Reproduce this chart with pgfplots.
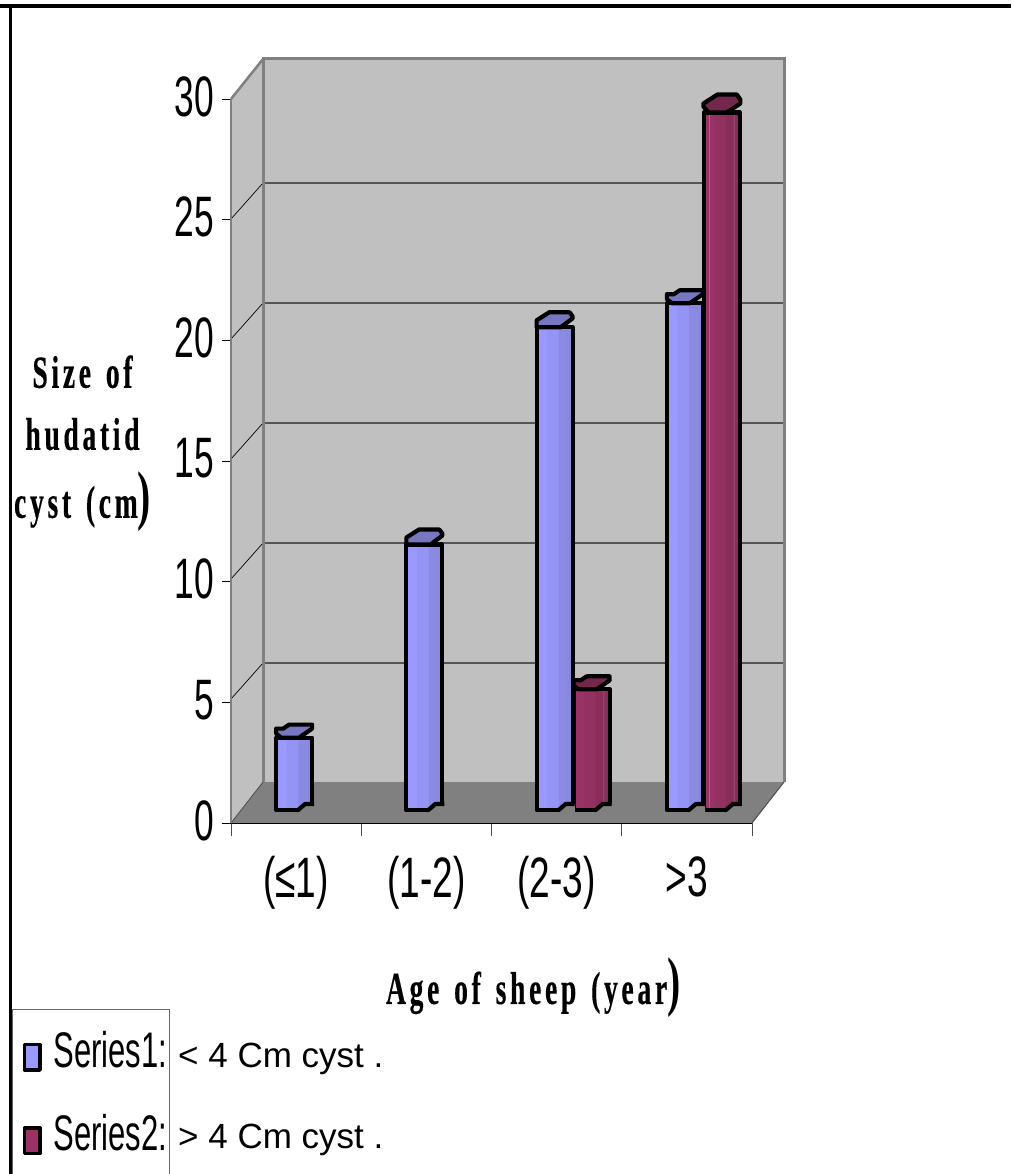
\documentclass[border=0pt]{standalone}
\usepackage{fontspec}
\usepackage{pgfplots}
\usepackage{pgfplotstable}
\pgfplotsset{compat=1.18}
\newfontfamily\ticksf[FakeStretch=0.62]{Liberation Sans}
\newfontfamily\catsf[FakeStretch=0.65]{Liberation Sans}
\newfontfamily\plainsf{Liberation Sans}
\newfontfamily\titlef[FakeStretch=0.6,LetterSpace=8,WordSpace=1.4,FakeBold=0.3]{Liberation Serif Bold}
\newfontfamily\parenf[FakeStretch=0.6]{Liberation Serif Bold}
\definecolor{wall}{HTML}{C0C0C0}
\definecolor{floorc}{HTML}{808080}
\definecolor{edge}{HTML}{808080}
\definecolor{gridc}{HTML}{555555}
\definecolor{blueA}{HTML}{9999FF}
\definecolor{blueB}{HTML}{9494F5}
\definecolor{blueC}{HTML}{8A8AE3}
\definecolor{blueD}{HTML}{8888DD}
\definecolor{bluetop}{HTML}{7777BF}
\definecolor{wineA}{HTML}{993366}
\definecolor{wineB}{HTML}{933160}
\definecolor{wineC}{HTML}{8A2E59}
\definecolor{wineD}{HTML}{82305A}
\definecolor{wineL}{HTML}{B0638A}
\definecolor{winetop}{HTML}{74264D}
% top face of a column, origin on the front edge of the top
\pgfdeclareplotmark{columncap}{%
  \pgfpathmoveto{\pgfqpoint{-18pt}{4pt}}%
  \pgfpathlineto{\pgfqpoint{-18pt}{9pt}}%
  \pgfpathlineto{\pgfqpoint{-11pt}{9pt}}%
  \pgfpathlineto{\pgfqpoint{-5pt}{13pt}}%
  \pgfpathlineto{\pgfqpoint{18pt}{13pt}}%
  \pgfpathlineto{\pgfqpoint{18pt}{9pt}}%
  \pgfpathlineto{\pgfqpoint{5pt}{0pt}}%
  \pgfpathlineto{\pgfqpoint{-13pt}{0pt}}%
  \pgfpathclose
  \pgfusepathqfillstroke}
% smooth variant with no step on its left side
\pgfdeclareplotmark{columncapround}{%
  \pgfpathmoveto{\pgfqpoint{-18pt}{0pt}}%
  \pgfpathlineto{\pgfqpoint{-18pt}{7pt}}%
  \pgfpathlineto{\pgfqpoint{-5.5pt}{15pt}}%
  \pgfpathlineto{\pgfqpoint{15pt}{15pt}}%
  \pgfpathlineto{\pgfqpoint{18pt}{11pt}}%
  \pgfpathlineto{\pgfqpoint{18pt}{9pt}}%
  \pgfpathlineto{\pgfqpoint{6pt}{0pt}}%
  \pgfpathclose
  \pgfusepathqfillstroke}
% the taller, rounder top of the highest column
\pgfdeclareplotmark{columncaptall}{%
  \pgfpathmoveto{\pgfqpoint{-18.5pt}{6pt}}%
  \pgfpathlineto{\pgfqpoint{-18.5pt}{9pt}}%
  \pgfpathlineto{\pgfqpoint{-4.5pt}{18pt}}%
  \pgfpathlineto{\pgfqpoint{15pt}{18pt}}%
  \pgfpathlineto{\pgfqpoint{18.5pt}{13pt}}%
  \pgfpathlineto{\pgfqpoint{18.5pt}{9pt}}%
  \pgfpathlineto{\pgfqpoint{4.5pt}{0pt}}%
  \pgfpathlineto{\pgfqpoint{-13pt}{0pt}}%
  \pgfpathclose
  \pgfusepathqfillstroke}
% curved foot of a column, origin on the base of the column
\pgfdeclareplotmark{columnfoot}{%
  \pgfpathmoveto{\pgfqpoint{4pt}{0pt}}%
  \pgfpathlineto{\pgfqpoint{11pt}{6pt}}%
  \pgfpathlineto{\pgfqpoint{20.2pt}{6pt}}%
  \pgfpathlineto{\pgfqpoint{20.2pt}{-2.5pt}}%
  \pgfpathlineto{\pgfqpoint{4pt}{-2.5pt}}%
  \pgfpathclose
  \pgfusepathqfill
  \pgfpathmoveto{\pgfqpoint{3pt}{0pt}}%
  \pgfpathlineto{\pgfqpoint{4pt}{0pt}}%
  \pgfpathlineto{\pgfqpoint{11pt}{6pt}}%
  \pgfpathlineto{\pgfqpoint{20pt}{6pt}}%
  \pgfusepathqstroke}
\pgfplotsset{
  stripe/.style n args={3}{ybar, forget plot, draw=none, fill=#1,
    bar width=#2pt, bar shift=#3pt, yshift=13pt},
  outline/.style={ybar, bar width=36pt, bar shift=#1pt, draw=black, fill=none,
    line width=4.2pt, line join=round, yshift=13pt},
  faces/.style={only marks, forget plot, yshift=13pt,
    mark options={draw=black, line width=4.2pt, line join=round, fill=#1}},
}
\pgfplotstableread{
x   value  base
0.5 3      0
1.5 11     0
2.5 20     0
3.5 21     0
}\seriesone
\pgfplotstableread{
x   value  base
2.5 5      0
3.5 28.9   0
}\seriestwo
\begin{document}
\begin{tikzpicture}[x=1pt,y=-1pt]
\path[use as bounding box] (0,0) rectangle (1011,1174);
% page frame
\fill[black] (0,4) rectangle (1011,8);
\fill[black] (9,4) rectangle (12,1174);
% chart box: side wall, back wall and floor
\fill[wall] (231,99) -- (263,59) -- (263,782) -- (231,823) -- cycle;
\fill[wall] (263,59) rectangle (784,782);
\fill[floorc] (231,823) -- (263,782) -- (784,782) -- (752,823) -- cycle;
\foreach \yy in {183,303,423,543,663} {
  \draw[gridc, line width=1.5pt] (263,\yy) -- (784,\yy);
}
\foreach \yy/\ff in {219/183,339/303,459/423,579/543,699/663} {
  \draw[black, line width=0.7pt] (231,\yy) -- (263,\ff);
}
\draw[edge, line width=3pt] (263,782) -- (263,59) -- (784,59) -- (784,782);
\draw[edge, line width=2.5pt] (231,99) -- (263,59);
\draw[black!70, line width=0.8pt] (231,823) -- (263,782);
\draw[black!70, line width=1pt] (752,823) -- (784,782);
\begin{axis}[
  at={(231pt,-823pt)}, anchor=south west,
  scale only axis, width=521pt, height=724pt,
  xmin=0, xmax=4, ymin=0, ymax=30,
  clip=false,
  axis x line=bottom, axis y line=left,
  axis line style={-, black, line width=0.8pt},
  y axis line style={edge, line width=2pt},
  xtick={0.5,1.5,2.5,3.5},
  xticklabels={(≤1),(1-2),(2-3),>3},
  minor xtick={0,1,2,3,4},
  ytick={0,5,10,15,20,25,30},
  tick align=outside,
  major tick length=9pt,
  minor tick length=13pt,
  x tick style={draw=none},
  minor x tick style={draw=black!70, line width=1pt},
  y tick style={black, line width=0.8pt},
  /pgf/number format/assume math mode=true,
  yticklabel style={xshift=-4.5pt, yshift=2.5pt, font=\ticksf\fontsize{57}{60}\selectfont},
  xticklabel style={yshift=-21pt, font=\catsf\fontsize{57}{60}\selectfont},
  xlabel={Age of sheep (year{\parenf\fontsize{66}{66}\selectfont)}},
  xlabel style={at={(axis description cs:0.58,-0.228)}, anchor=center,
    font=\titlef\fontsize{46}{50}\selectfont},
  ylabel={Size of\\hudatid\\[6pt]cyst (cm{\parenf\fontsize{66}{66}\selectfont)}},
  ylabel style={at={(axis description cs:-0.285,0.524)}, rotate=-90,
    anchor=center, align=center,
    font=\titlef\fontsize{46}{62}\selectfont},
  legend style={at={(axis description cs:-0.4,-0.2844)}, anchor=north west,
    draw=none, fill=none, inner sep=0pt, row sep=41pt,
    font=\ticksf\fontsize{50}{52}\selectfont},
  legend cell align=left,
]
% series 1: cysts under 4 cm
\addplot[stripe={blueA}{36}{-2}] table[x=x, y=value] {\seriesone};
\addplot[stripe={blueB}{11.6}{-3.5}] table[x=x, y=value] {\seriesone};
\addplot[stripe={blueC}{8.4}{6.5}] table[x=x, y=value] {\seriesone};
\addplot[stripe={blueD}{5}{13.1}] table[x=x, y=value] {\seriesone};
\addplot[outline=-2,
  legend image code/.code={\draw[black, line width=3.4pt, fill=blueA]
    (-2pt,-33pt) rectangle (13.5pt,-7.5pt); \path (23pt,-20pt);}]
  table[x=x, y=value] {\seriesone};
\addlegendentry{Series1:}
\addplot[faces=floorc, mark=columnfoot, xshift=-2pt] table[x=x, y=base] {\seriesone};
\addplot[faces=bluetop, mark=columncap, xshift=-2pt] coordinates {(0.5,3) (3.5,21)};
\addplot[faces=bluetop, mark=columncapround, xshift=-2pt] coordinates {(1.5,11) (2.5,20)};
% series 2: cysts over 4 cm
\addplot[stripe={wineA}{36}{35}] table[x=x, y=value] {\seriestwo};
\addplot[stripe={wineB}{11}{33.5}] table[x=x, y=value] {\seriestwo};
\addplot[stripe={wineC}{8}{43}] table[x=x, y=value] {\seriestwo};
\addplot[stripe={wineL}{0.9}{47.4}] table[x=x, y=value] {\seriestwo};
\addplot[stripe={wineD}{5}{50.3}] table[x=x, y=value] {\seriestwo};
\addplot[stripe={wineL}{0.9}{22.5}] coordinates {(3.5,28.9)};
\addplot[outline=35,
  legend image code/.code={\draw[black, line width=3.4pt, fill=wineA]
    (-2pt,-33pt) rectangle (13.5pt,-7.5pt); \path (23pt,-20pt);}]
  table[x=x, y=value] {\seriestwo};
\addlegendentry{Series2:}
\addplot[faces=floorc, mark=columnfoot, xshift=35pt] table[x=x, y=base] {\seriestwo};
\addplot[faces=winetop, mark=columncap, xshift=35pt] coordinates {(2.5,5)};
\addplot[faces=winetop, mark=columncaptall, xshift=35pt] coordinates {(3.5,28.9)};
\end{axis}
% legend box and the notes beside it
\draw[black!60, line width=1pt] (12,1174) -- (12,1009) -- (169,1009) -- (169,1174);
\node[anchor=base west, inner sep=0pt, font=\plainsf\fontsize{35}{36}\selectfont] at (178,1067) {< 4 Cm cyst .};
\node[anchor=base west, inner sep=0pt, font=\plainsf\fontsize{35}{36}\selectfont] at (178,1148) {> 4 Cm cyst .};
\end{tikzpicture}
\end{document}
